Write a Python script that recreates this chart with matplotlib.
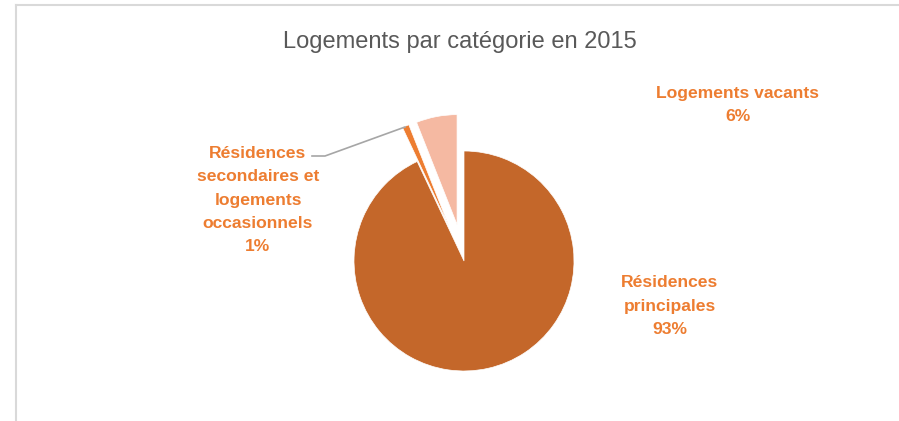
import matplotlib.pyplot as plt
from matplotlib.lines import Line2D

categories = ["Résidences principales", "Résidences secondaires et logements occasionnels", "Logements vacants"]
values = [93, 1, 6]
label_texts = ["Résidences\nprincipales\n93%",
               "Résidences\nsecondaires et\nlogements\noccasionnels\n1%",
               "Logements vacants\n6%"]
colors = ["#C4672A", "#ED7D31", "#F5B9A2"]
explode = [0, 37, 37]  # pie explode is in data units here (1 unit = 1 px)

W, H = 899, 421
plt.rcParams['font.family'] = ['Liberation Sans', 'DejaVu Sans']

fig = plt.figure(figsize=(W / 100, H / 100), dpi=100)
ax = fig.add_axes([0, 0, 1, 1])

# frame of the chart area
fig.add_artist(Line2D([16 / W, 16 / W], [0, 1 - 5 / H], color="#D9D9D9", lw=1.5))
fig.add_artist(Line2D([16 / W, 1], [1 - 5 / H, 1 - 5 / H], color="#D9D9D9", lw=1.5))

ax.pie(values, colors=colors, explode=explode, startangle=90, counterclock=False,
       center=(464, H - 261), radius=110, frame=True,
       wedgeprops=dict(edgecolor="white", linewidth=0.5))
ax.set_xlim(0, W)
ax.set_ylim(0, H)
ax.set_aspect('equal')
ax.axis('off')

ax.text(460, H - 42, "Logements par catégorie en 2015", ha="center", va="center",
        fontsize=17, color="#595959")

lab_color = "#ED7D31"
pos = [(670, H - 306), (258, H - 200), (738, H - 105)]
for (x, y), t in zip(pos, label_texts):
    ax.text(x, y, t, ha="center", va="center", fontsize=12.6, fontweight="bold",
            color=lab_color, linespacing=1.68)

# leader line for the small slice
ax.plot([312, 325, 405], [H - 156, H - 156, H - 127], color="#A6A6A6", lw=1.2)

fig.savefig("out.png", dpi=100)
